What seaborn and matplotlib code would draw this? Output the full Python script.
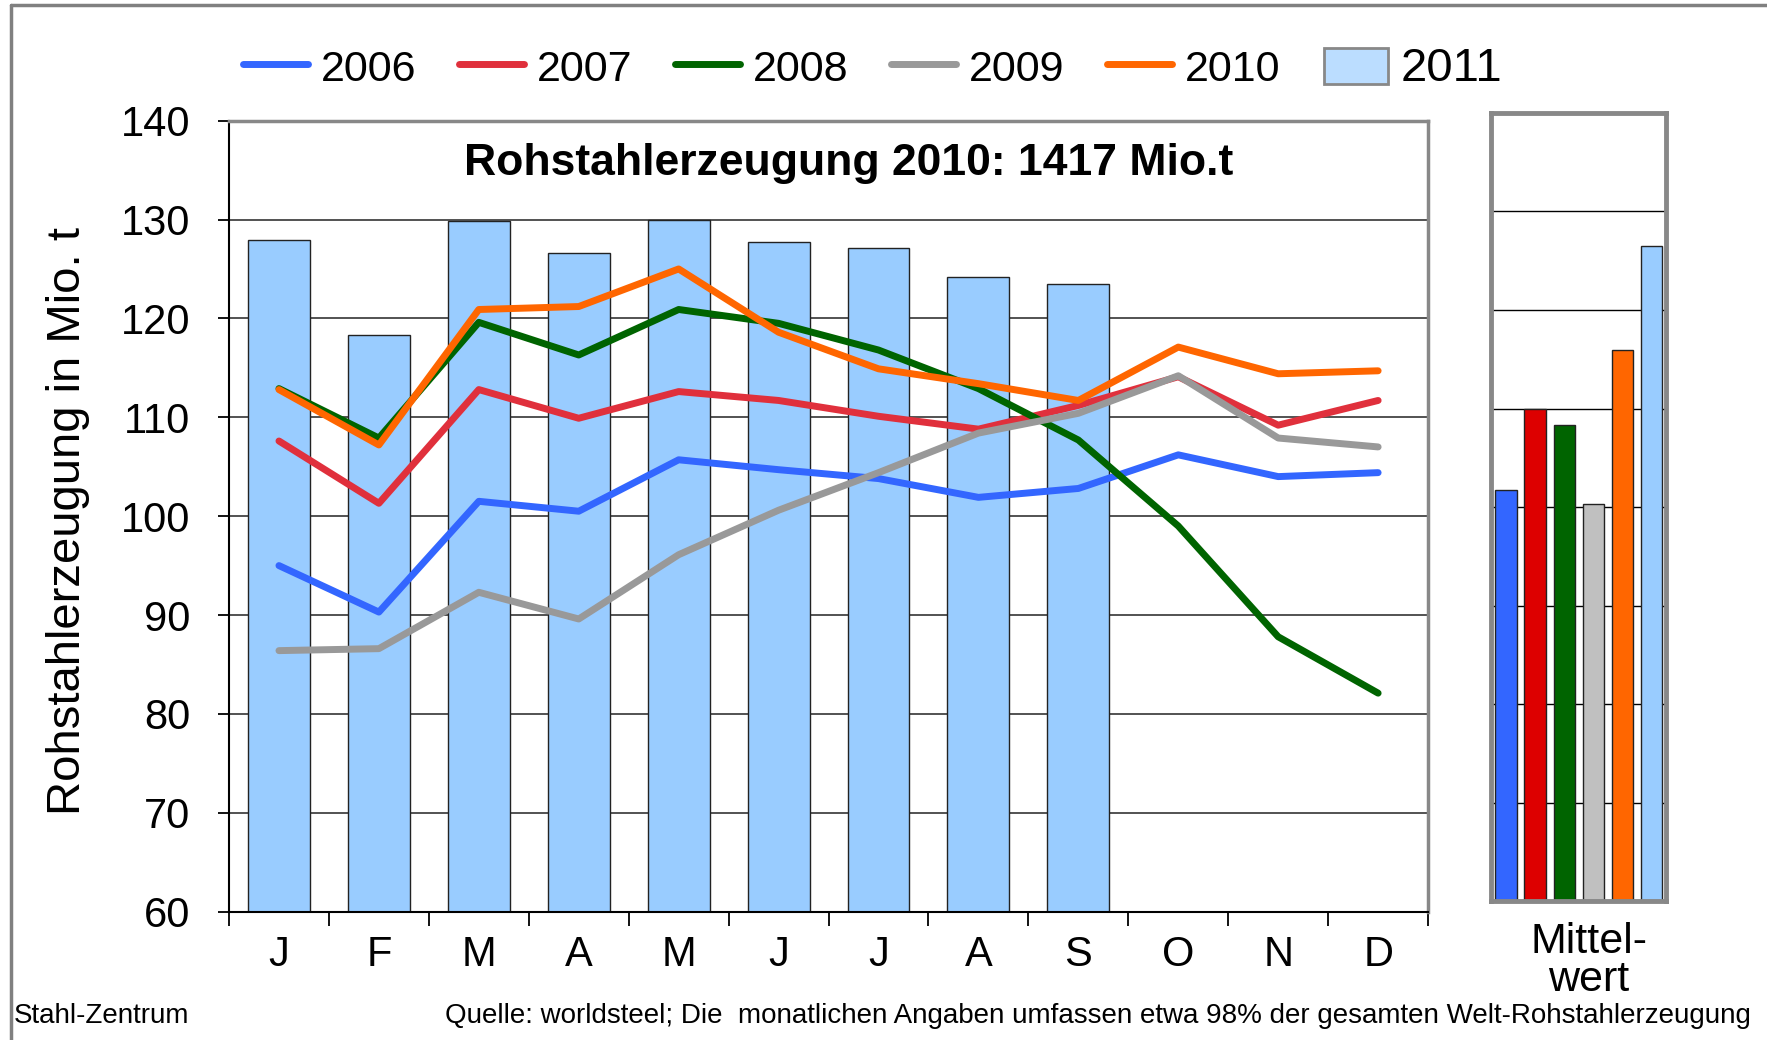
import numpy as np
import pandas as pd
import matplotlib
matplotlib.use("Agg")
import matplotlib.pyplot as plt
from matplotlib.lines import Line2D
from matplotlib.patches import Patch
import seaborn as sns

months = ["J", "F", "M", "A", "M", "J", "J", "A", "S", "O", "N", "D"]
years = ["2006", "2007", "2008", "2009", "2010"]
v2006 = [95.0, 90.3, 101.5, 100.5, 105.7, 104.7, 103.8, 101.9, 102.8, 106.2, 104.0, 104.4]
v2007 = [107.6, 101.3, 112.8, 109.9, 112.6, 111.7, 110.1, 108.8, 111.2, 114.1, 109.2, 111.7]
v2008 = [112.9, 107.9, 119.6, 116.3, 120.9, 119.5, 116.8, 112.9, 107.7, 99.0, 87.8, 82.1]
v2009 = [86.4, 86.6, 92.3, 89.6, 96.1, 100.6, 104.4, 108.4, 110.4, 114.2, 107.9, 107.0]
v2010 = [112.8, 107.2, 120.9, 121.2, 125.0, 118.6, 114.9, 113.4, 111.7, 117.1, 114.4, 114.7]
v2011 = [127.9, 118.3, 129.8, 126.6, 130.0, 127.7, 127.1, 124.2, 123.5]
mean_years = ["2006", "2007", "2008", "2009", "2010", "2011"]
mean_values = [101.7, 110.0, 108.3, 100.3, 115.9, 126.5]

line_colors = {"2006": "#3366FF", "2007": "#E0303C", "2008": "#006400",
               "2009": "#999999", "2010": "#FF6600"}
mean_colors = ["#3366FF", "#DD0000", "#006400", "#C0C0C0", "#FF6600", "#99CCFF"]
bar_color = "#99CCFF"

sns.set_style("white")
plt.rcParams["font.family"] = ["Liberation Sans", "DejaVu Sans"]
plt.rcParams["text.color"] = "black"
plt.rcParams["axes.labelcolor"] = "black"
plt.rcParams["xtick.color"] = "black"
plt.rcParams["ytick.color"] = "black"

fig = plt.figure(figsize=(17.67, 10.40), dpi=100)
ax = fig.add_axes([0.1296, 0.1234, 0.6786, 0.7606])
ax2 = fig.add_axes([0.8438, 0.1332, 0.0988, 0.7584])

# grid lines behind bars
for yv in range(70, 140, 10):
    ax.axhline(yv, color="#444444", lw=1.3, zorder=0)

# bars 2011
df_bar = pd.DataFrame({"pos": list(range(len(v2011))), "val": v2011})
sns.barplot(data=df_bar, x="pos", y="val", ax=ax, color=bar_color, width=0.62,
            edgecolor="#222222", linewidth=1.0, saturation=1, zorder=2,
            order=list(range(12)))

# lines 2006-2010
series = {"2006": v2006, "2007": v2007, "2008": v2008, "2009": v2009, "2010": v2010}
rows = []
for y in years:
    for i, v in enumerate(series[y]):
        rows.append({"pos": i, "val": v, "year": y})
df_line = pd.DataFrame(rows)
sns.lineplot(data=df_line, x="pos", y="val", hue="year", palette=line_colors,
             ax=ax, lw=5.0, legend=False, zorder=3, sort=False)

ax.set_xlim(-0.5, 11.5)
ax.set_ylim(60, 140)
ax.set_yticks(range(60, 141, 10))
ax.set_yticklabels([str(v) for v in range(60, 141, 10)])
ax.set_xticks(np.arange(-0.5, 12, 1))
ax.set_xticklabels([])
ax.set_xticks(range(12), minor=True)
ax.set_xticklabels(months, minor=True)
ax.tick_params(axis="x", which="major", direction="out", length=10, width=1.3, color="black")
ax.tick_params(axis="x", which="minor", length=0, pad=17, labelsize=30)
ax.tick_params(axis="y", direction="out", length=8, width=1.3, color="black", pad=20, labelsize=30)
ax.yaxis.set_ticks_position("left")
ax.xaxis.set_ticks_position("bottom")
ax.set_xlabel("")
ax.set_ylabel("Rohstahlerzeugung in Mio. t", fontsize=34)
ax.yaxis.set_label_coords(-0.116, 0.494)
for s in ["left", "bottom"]:
    ax.spines[s].set_color("black")
    ax.spines[s].set_linewidth(1.5)
for s in ["top", "right"]:
    ax.spines[s].set_color("#888888")
    ax.spines[s].set_linewidth(2.5)
ax.text(0.517, 0.946, "Rohstahlerzeugung 2010: 1417 Mio.t", transform=ax.transAxes,
        ha="center", va="center", fontsize=32, fontweight="bold")

# right panel: averages
df_mean = pd.DataFrame({"year": mean_years, "val": mean_values})
for yv in range(70, 140, 10):
    ax2.axhline(yv, color="black", lw=1.0, zorder=0)
sns.barplot(data=df_mean, x="year", y="val", hue="year", palette=mean_colors,
            ax=ax2, width=0.74, edgecolor="#222222", linewidth=1.0, saturation=1,
            legend=False, zorder=2)
ax2.set_xlim(-0.52, 5.48)
ax2.set_ylim(60, 140)
ax2.set_xticks([])
ax2.set_yticks([])
ax2.set_xlabel("")
ax2.set_ylabel("")
for s in ax2.spines.values():
    s.set_color("#888888")
    s.set_linewidth(3.5)
fig.text(0.8993, 0.076, "Mittel-\nwert", ha="center", va="center", fontsize=31,
         linespacing=0.95)

# legend
handles = [Line2D([0], [0], color=line_colors[y], lw=5) for y in years]
handles.append(Patch(facecolor="#BBDDFF", edgecolor="#888888", linewidth=2))
leg = fig.legend(handles, mean_years, loc="center", bbox_to_anchor=(0.494, 0.934),
                 ncol=6, frameon=False, fontsize=31, handlelength=1.5,
                 handletextpad=0.3, columnspacing=1.0, handleheight=0.9)
leg.get_texts()[-1].set_fontsize(34)

# footer
fig.text(0.008, 0.023, "Stahl-Zentrum", ha="left", va="center", fontsize=20)
fig.text(0.991, 0.023,
         "Quelle: worldsteel; Die  monatlichen Angaben umfassen etwa 98% der gesamten Welt-Rohstahlerzeugung",
         ha="right", va="center", fontsize=20)

# outer frame (top and left)
fig.add_artist(Line2D([0.006, 1.0], [0.995, 0.995], transform=fig.transFigure,
                      color="#808080", lw=2.5))
fig.add_artist(Line2D([0.0065, 0.0065], [0.0, 0.995], transform=fig.transFigure,
                      color="#808080", lw=2.5))

fig.savefig("out.png", dpi=100)
